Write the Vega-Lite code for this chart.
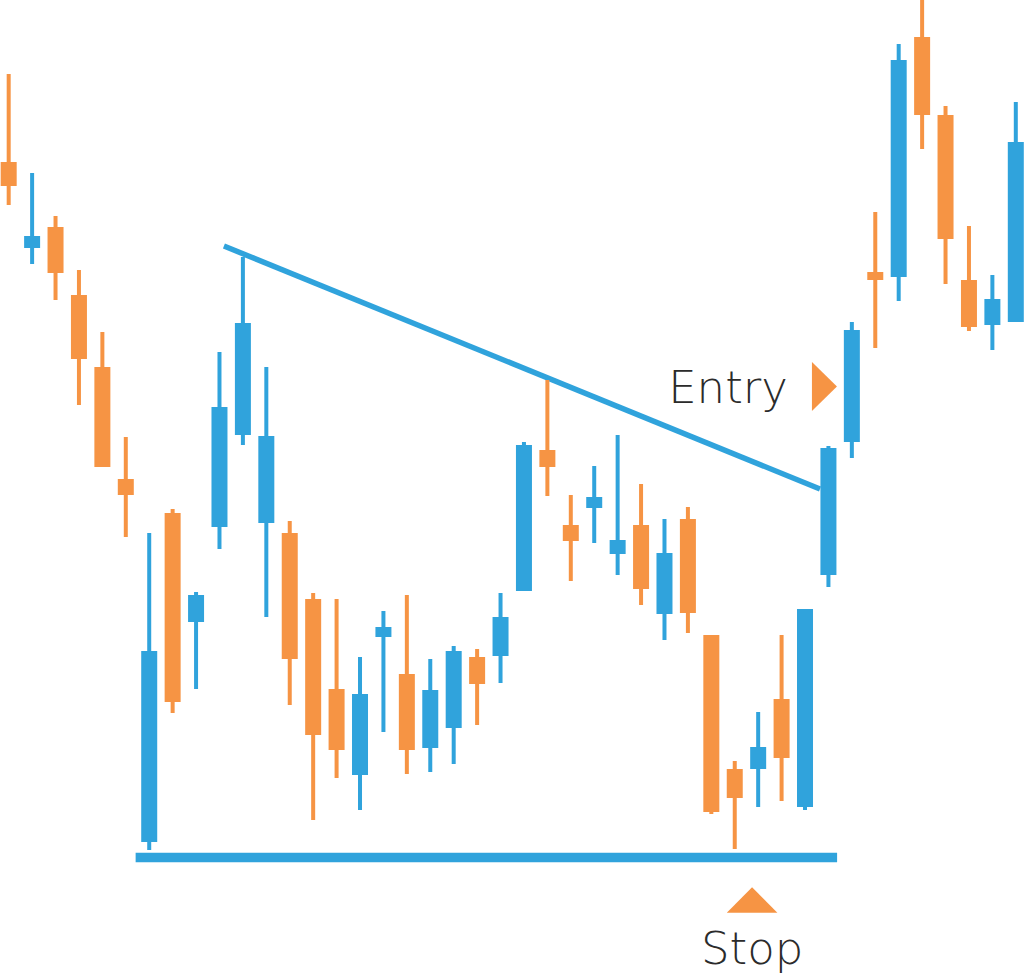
{
  "$schema": "https://vega.github.io/schema/vega-lite/v6.json",
  "width": 1024,
  "height": 977,
  "autosize": {"type": "none"},
  "padding": 0,
  "background": "white",
  "config": {"view": {"stroke": null}},
  "datasets": {
    "candles": [
      {"day": 1, "open": 815, "high": 903, "low": 772, "close": 791},
      {"day": 2, "open": 729, "high": 804, "low": 713, "close": 741},
      {"day": 3, "open": 750, "high": 761, "low": 677, "close": 704},
      {"day": 4, "open": 682, "high": 707, "low": 572, "close": 618},
      {"day": 5, "open": 610, "high": 645, "low": 510, "close": 510},
      {"day": 6, "open": 498, "high": 540, "low": 440, "close": 482},
      {"day": 7, "open": 135, "high": 444, "low": 127, "close": 326},
      {"day": 8, "open": 464, "high": 468, "low": 264, "close": 275},
      {"day": 9, "open": 355, "high": 385, "low": 288, "close": 382},
      {"day": 10, "open": 450, "high": 625, "low": 428, "close": 570},
      {"day": 11, "open": 542, "high": 720, "low": 532, "close": 654},
      {"day": 12, "open": 454, "high": 610, "low": 360, "close": 541},
      {"day": 13, "open": 444, "high": 456, "low": 272, "close": 318},
      {"day": 14, "open": 378, "high": 384, "low": 157, "close": 242},
      {"day": 15, "open": 288, "high": 378, "low": 199, "close": 227},
      {"day": 16, "open": 202, "high": 320, "low": 167, "close": 283},
      {"day": 17, "open": 340, "high": 366, "low": 245, "close": 350},
      {"day": 18, "open": 303, "high": 382, "low": 203, "close": 227},
      {"day": 19, "open": 229, "high": 318, "low": 205, "close": 287},
      {"day": 20, "open": 249, "high": 331, "low": 213, "close": 326},
      {"day": 21, "open": 320, "high": 328, "low": 252, "close": 293},
      {"day": 22, "open": 321, "high": 384, "low": 294, "close": 360},
      {"day": 23, "open": 386, "high": 535, "low": 386, "close": 532},
      {"day": 24, "open": 527, "high": 597, "low": 481, "close": 510},
      {"day": 25, "open": 452, "high": 482, "low": 396, "close": 436},
      {"day": 26, "open": 469, "high": 511, "low": 434, "close": 480},
      {"day": 27, "open": 423, "high": 542, "low": 402, "close": 437},
      {"day": 28, "open": 452, "high": 493, "low": 372, "close": 388},
      {"day": 29, "open": 363, "high": 458, "low": 337, "close": 424},
      {"day": 30, "open": 458, "high": 470, "low": 344, "close": 364},
      {"day": 31, "open": 342, "high": 342, "low": 163, "close": 165},
      {"day": 32, "open": 208, "high": 216, "low": 128, "close": 179},
      {"day": 33, "open": 208, "high": 265, "low": 170, "close": 230},
      {"day": 34, "open": 278, "high": 342, "low": 176, "close": 219},
      {"day": 35, "open": 170, "high": 368, "low": 167, "close": 368},
      {"day": 36, "open": 402, "high": 531, "low": 390, "close": 529},
      {"day": 37, "open": 535, "high": 655, "low": 519, "close": 647},
      {"day": 38, "open": 705, "high": 765, "low": 629, "close": 697},
      {"day": 39, "open": 700, "high": 933, "low": 676, "close": 917},
      {"day": 40, "open": 940, "high": 977, "low": 828, "close": 862},
      {"day": 41, "open": 862, "high": 871, "low": 693, "close": 738},
      {"day": 42, "open": 697, "high": 751, "low": 646, "close": 650},
      {"day": 43, "open": 652, "high": 702, "low": 627, "close": 678},
      {"day": 44, "open": 655, "high": 875, "low": 655, "close": 835}
    ],
    "trend": [
      {"day": 10.19, "price": 731},
      {"day": 35.64, "price": 488}
    ],
    "support": [
      {"start": 6.42, "end": 36.37, "price": 119.5}
    ],
    "labels": [
      {"label": "Entry", "day": 34.27, "price": 574},
      {"label": "Stop", "day": 32.74, "price": 13}
    ],
    "markers": [
      {"name": "entry", "day": 35.83, "price": 590.5},
      {"name": "stop", "day": 32.74, "price": 77}
    ]
  },
  "encoding": {
    "x": {"field": "day", "type": "quantitative", "axis": null,
          "scale": {"domain": [0.629, 44.35], "nice": false, "zero": false, "padding": 0}},
    "y": {"type": "quantitative", "axis": null,
          "scale": {"domain": [0, 977], "nice": false, "zero": false, "padding": 0}}
  },
  "layer": [
    {
      "data": {"name": "support"},
      "mark": {"type": "rule", "color": "#30a3dc", "strokeWidth": 9.5, "strokeCap": "butt"},
      "encoding": {
        "x": {"field": "start", "type": "quantitative"},
        "x2": {"field": "end"},
        "y": {"field": "price", "type": "quantitative"}
      }
    },
    {
      "data": {"name": "trend"},
      "mark": {"type": "line", "color": "#30a3dc", "strokeWidth": 5.5, "strokeCap": "butt"},
      "encoding": {
        "y": {"field": "price", "type": "quantitative"}
      }
    },
    {
      "data": {"name": "candles"},
      "mark": {"type": "rule", "strokeWidth": 4, "strokeCap": "butt"},
      "encoding": {
        "y": {"field": "low", "type": "quantitative"},
        "y2": {"field": "high"},
        "color": {"condition": {"test": "datum.close > datum.open", "value": "#30a3dc"}, "value": "#f69444"}
      }
    },
    {
      "data": {"name": "candles"},
      "mark": {"type": "bar", "size": 16},
      "encoding": {
        "y": {"field": "open", "type": "quantitative"},
        "y2": {"field": "close"},
        "color": {"condition": {"test": "datum.close > datum.open", "value": "#30a3dc"}, "value": "#f69444"}
      }
    },
    {
      "data": {"name": "markers"},
      "transform": [{"filter": "datum.name === 'entry'"}],
      "mark": {"type": "point", "filled": true, "color": "#f69444", "opacity": 1,
               "shape": "M -0.51 -1 L 0.51 0 L -0.51 1 Z", "size": 2401},
      "encoding": {
        "y": {"field": "price", "type": "quantitative"}
      }
    },
    {
      "data": {"name": "markers"},
      "transform": [{"filter": "datum.name === 'stop'"}],
      "mark": {"type": "point", "filled": true, "color": "#f69444", "opacity": 1,
               "shape": "M -1 0.5 L 0 -0.5 L 1 0.5 Z", "size": 2560},
      "encoding": {
        "y": {"field": "price", "type": "quantitative"}
      }
    },
    {
      "data": {"name": "labels"},
      "transform": [{"filter": "datum.label === 'Entry'"}],
      "mark": {"type": "text", "font": "DejaVu Sans", "fontWeight": 200, "fontSize": 45,
               "align": "right", "baseline": "alphabetic", "color": "#2b2b2b"},
      "encoding": {
        "y": {"field": "price", "type": "quantitative"},
        "text": {"field": "label"}
      }
    },
    {
      "data": {"name": "labels"},
      "transform": [{"filter": "datum.label === 'Stop'"}],
      "mark": {"type": "text", "font": "DejaVu Sans", "fontWeight": 200, "fontSize": 45,
               "align": "center", "baseline": "alphabetic", "color": "#2b2b2b"},
      "encoding": {
        "y": {"field": "price", "type": "quantitative"},
        "text": {"field": "label"}
      }
    }
  ]
}
